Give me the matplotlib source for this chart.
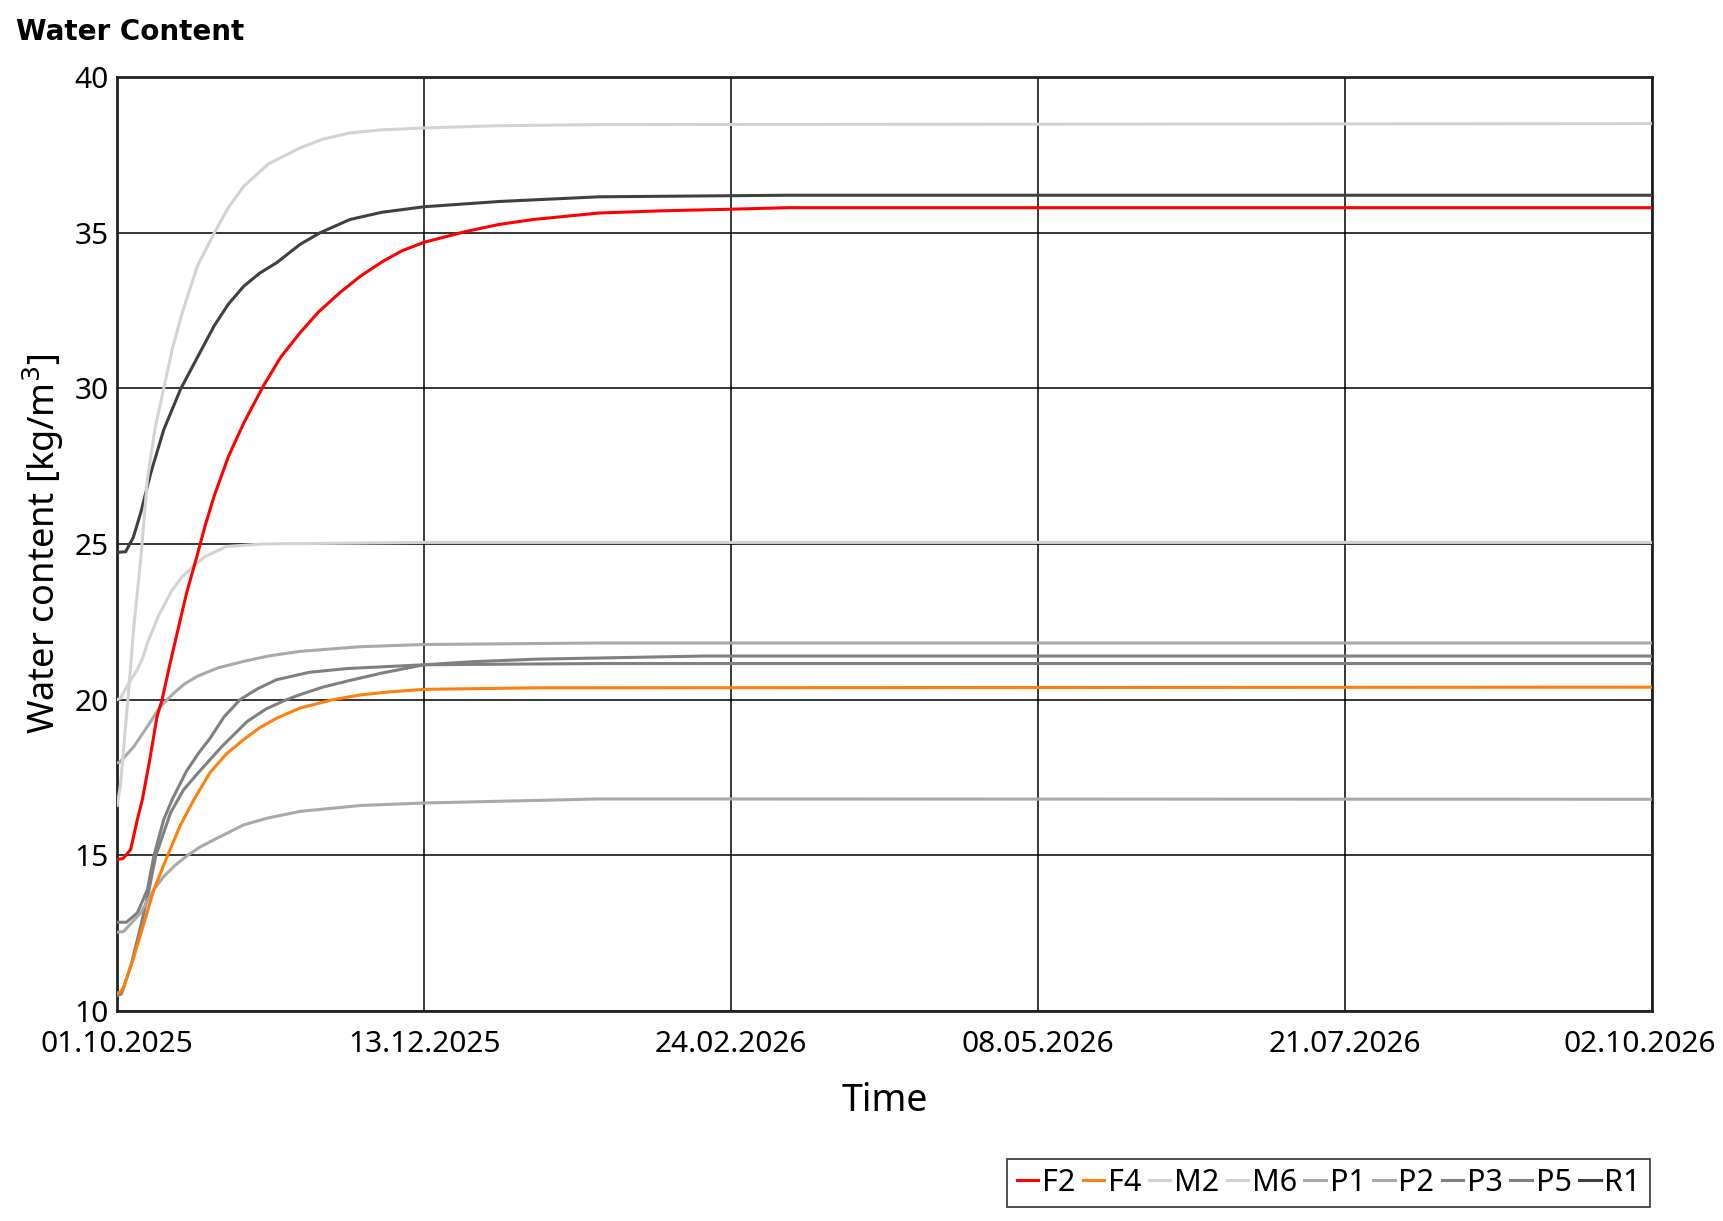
import matplotlib
matplotlib.use("Agg")
import matplotlib.pyplot as plt
import matplotlib.transforms as mtransforms

plt.rcParams['font.family'] = ['Noto Sans', 'DejaVu Sans']

# tick positions in days since 01.10.2025
tick_days = [0, 73.2, 146.4, 219.6, 292.8, 366]
tick_labels = ["01.10.2025", "13.12.2025", "24.02.2026", "08.05.2026", "21.07.2026", "02.10.2026"]

# values (day, water content)
f2_t = [0, 1.4, 3.2, 4.8, 6.0, 7.8, 9.5, 10.7, 12.5, 14.3, 16.5, 19.0, 21.0, 23.1, 26.5, 30.2, 34.8, 39, 43.6, 48, 53.1, 58, 63.4, 68, 73.2, 83.3, 91, 99.2, 115, 130, 146, 160, 366]
f2_v = [14.86, 14.9, 15.18, 16.15, 16.79, 18.1, 19.46, 20.0, 21.1, 22.14, 23.4, 24.6, 25.6, 26.53, 27.8, 28.89, 30.06, 31.0, 31.78, 32.45, 33.07, 33.6, 34.08, 34.42, 34.69, 35.04, 35.26, 35.42, 35.63, 35.7, 35.75, 35.8, 35.8]

f4_t = [0, 0.8, 1.6, 4.0, 6.4, 8.75, 12.0, 15, 18.3, 22.1, 26, 30, 34, 38, 43.6, 51.5, 58, 65, 73.2, 100, 366]
f4_v = [10.58, 10.6, 10.79, 11.75, 12.83, 13.9, 14.99, 15.95, 16.79, 17.65, 18.25, 18.7, 19.1, 19.4, 19.73, 20.0, 20.15, 20.25, 20.33, 20.38, 20.4]

m2_t = [0, 0.8, 2.6, 4.0, 5.6, 7.2, 9.0, 11.1, 13.2, 15.5, 19.1, 23.1, 26.5, 30.2, 36, 43.6, 49, 55.5, 63, 73.2, 90, 115, 366]
m2_v = [16.6, 17.3, 20.1, 22.4, 24.5, 27.07, 28.7, 30.0, 31.3, 32.42, 33.92, 34.98, 35.8, 36.49, 37.2, 37.72, 38.0, 38.2, 38.3, 38.36, 38.43, 38.47, 38.5]

m6_t = [0, 0.8, 2.6, 4.8, 6.2, 7.2, 9.8, 13, 15.5, 18.1, 21, 26.1, 35, 73, 366]
m6_v = [20.0, 20.05, 20.5, 20.96, 21.39, 21.82, 22.68, 23.5, 23.95, 24.28, 24.6, 24.92, 25.0, 25.05, 25.05]

p1_t = [0, 0.7, 4.0, 7.2, 10.3, 13.5, 16, 19.1, 24, 30.2, 36, 43.6, 58, 73.2, 115, 366]
p1_v = [17.97, 18.0, 18.5, 19.14, 19.78, 20.21, 20.5, 20.75, 21.02, 21.23, 21.4, 21.55, 21.7, 21.77, 21.82, 21.82]

p2_t = [0, 1.5, 5.6, 8.75, 11.1, 13.8, 16.7, 19.8, 23.1, 30.2, 36, 43.6, 58, 73.2, 115, 366]
p2_v = [12.53, 12.55, 13.15, 13.9, 14.32, 14.68, 14.99, 15.27, 15.5, 15.98, 16.2, 16.41, 16.6, 16.68, 16.81, 16.8]

p3_t = [0, 2.2, 4.8, 7.2, 8.75, 11.1, 13.1, 16.5, 19.5, 22.1, 25.5, 29.3, 33.5, 38, 45.9, 55, 73.2, 115, 366]
p3_v = [12.85, 12.85, 13.15, 13.9, 14.99, 16.15, 16.79, 17.7, 18.3, 18.75, 19.45, 20.0, 20.35, 20.64, 20.88, 21.0, 21.12, 21.16, 21.16]

p5_t = [0, 1.0, 3.2, 5.6, 7.6, 9.2, 12.7, 15.8, 19.3, 25, 31, 35.5, 40.4, 43.6, 49, 55, 63, 73.2, 85, 100, 140, 366]
p5_v = [10.5, 10.55, 11.43, 12.72, 13.9, 14.99, 16.36, 17.1, 17.65, 18.5, 19.3, 19.7, 20.0, 20.16, 20.4, 20.6, 20.85, 21.12, 21.22, 21.3, 21.4, 21.4]

r1_t = [0, 2.0, 3.8, 5.6, 8.0, 11.1, 15.1, 19.7, 23.1, 26.5, 30.2, 34, 38, 43.6, 48.3, 55.5, 63, 73.2, 91.2, 115, 160, 366]
r1_v = [24.73, 24.75, 25.2, 26.0, 27.28, 28.67, 29.97, 31.14, 32.0, 32.7, 33.28, 33.7, 34.03, 34.62, 34.99, 35.42, 35.65, 35.83, 36.0, 36.15, 36.2, 36.2]

names = ["F2", "F4", "M2", "M6", "P1", "P2", "P3", "P5", "R1"]
colors = ["#ff0000", "#ff7f0e", "#d3d3d3", "#d3d3d3", "#a9a9a9", "#a9a9a9", "#808080", "#808080", "#404040"]
series = [(f2_t, f2_v), (f4_t, f4_v), (m2_t, m2_v), (m6_t, m6_v), (p1_t, p1_v),
          (p2_t, p2_v), (p3_t, p3_v), (p5_t, p5_v), (r1_t, r1_v)]

fig = plt.figure(figsize=(17.24, 12.21), dpi=100)
ax = fig.add_axes([0.068, 0.172, 0.890, 0.765])

# draw from back to front so the coloured lines sit on top
for i in [8, 7, 6, 5, 4, 3, 2, 1, 0]:
    t, v = series[i]
    ax.plot(t, v, color=colors[i], lw=2.2, label=names[i], zorder=3 + (8 - i) * 0.01)

ax.set_xlim(0, 366)
ax.set_ylim(10, 40)
ax.set_xticks(tick_days)
ax.set_xticklabels(tick_labels)
ax.set_yticks([10, 15, 20, 25, 30, 35, 40])
ax.grid(True, color="black", lw=1.1)
ax.tick_params(length=0, labelsize=21.5)
ax.tick_params(axis="x", pad=14)
ax.tick_params(axis="y", pad=6)
for s in ax.spines.values():
    s.set_linewidth(2)
    s.set_color("#222222")

# last date label sits a bit left so it stays inside the figure
last = ax.get_xticklabels()[-1]
last.set_transform(last.get_transform() + mtransforms.ScaledTranslation(-0.12, 0, fig.dpi_scale_trans))

ax.set_xlabel("Time", fontsize=27, labelpad=16)
ax.set_ylabel("Water content [kg/m$^3$]", fontsize=26, labelpad=6)

fig.text(0.009, 0.974, "Water Content", fontsize=20, fontweight="bold",
         family="DejaVu Sans", va="center", ha="left")

handles, labels = ax.get_legend_handles_labels()
order = [labels.index(n) for n in names]
leg = ax.legend([handles[k] for k in order], names, ncol=9, loc="lower right",
                bbox_to_anchor=(0.957, 0.0115), bbox_transform=fig.transFigure,
                borderaxespad=0, fontsize=22, handlelength=0.7, handletextpad=0.12,
                columnspacing=0.25, frameon=True, fancybox=False, borderpad=0.3)
leg.get_frame().set_edgecolor("black")
leg.get_frame().set_linewidth(1.2)

fig.savefig("out.png", dpi=100)
